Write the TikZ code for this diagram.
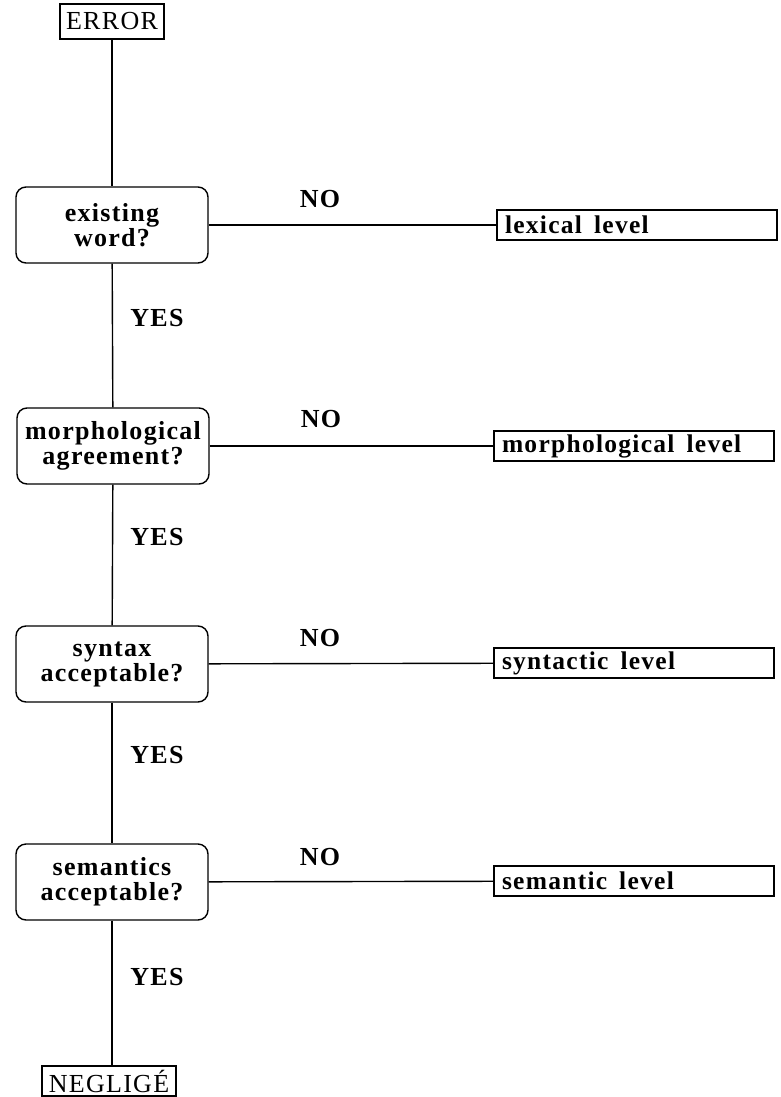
\documentclass[tikz,border=0pt]{standalone}
\usepackage{fontspec}
\setmainfont{Liberation Serif}[LetterSpace=5]
\begin{document}
\begin{tikzpicture}[x=1pt,y=-1pt,line width=1.4pt,
  dec/.style={draw,rounded corners=10pt,minimum width=192pt,minimum height=76pt,align=center,inner sep=0pt,font=\bfseries\fontsize{26}{25}\selectfont},
  lvl/.style={draw,text width=264pt,inner xsep=8pt,inner ysep=0pt,minimum height=30pt,align=left,font=\bfseries\fontsize{25.5}{25}\selectfont},
  term/.style={draw,inner sep=0pt,font=\fontsize{26}{25}\selectfont},
  lab/.style={font=\bfseries\fontsize{26}{25}\selectfont}]
\useasboundingbox (0,0) rectangle (781,1097);
% terminals
\node[term,minimum width=104pt,minimum height=35pt] (err) at (112,21.5) {ERROR};
\node[term,minimum width=134pt,minimum height=30pt] (neg) at (109,1081) {NEGLIGÉ};
% decisions
\node[dec] (d1) at (112,225) {existing\\word?};
\node[dec] (d2) at (113,446) {morphological\\agreement?};
\node[dec] (d3) at (112,664) {syntax\\acceptable?};
\node[dec] (d4) at (112,882) {semantics\\acceptable?};
% levels
\node[lvl] (l1) at (637,225) {lexical\hspace{12pt}level};
\node[lvl] (l2) at (634,446) {morphological\hspace{12pt}level};
\node[lvl] (l3) at (634,663) {syntactic\hspace{12pt}level};
\node[lvl] (l4) at (634,881) {semantic\hspace{12pt}level};
% labels
\node[lab] (n1) at (320,199) {NO};
\node[lab] (n2) at (321,419) {NO};
\node[lab] (n3) at (320,638) {NO};
\node[lab] (n4) at (320,857) {NO};
\node[lab] (y1) at (157,318) {YES};
\node[lab] (y2) at (157,537) {YES};
\node[lab] (y3) at (157,755) {YES};
\node[lab] (y4) at (157,977) {YES};
% connectors
\draw (err) -- (d1);
\draw (d1) -- (d2);
\draw (d2) -- (d3);
\draw (d3) -- (d4);
\draw (d4.south) -- (d4.south |- neg.north);
\draw (d1) -- (l1);
\draw (d2) -- (l2);
\draw (d3) -- (l3);
\draw (d4) -- (l4);
\end{tikzpicture}
\end{document}
